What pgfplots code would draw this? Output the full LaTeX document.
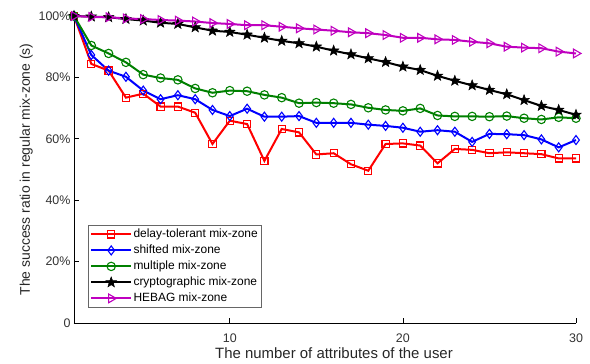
\documentclass[border=0pt]{standalone}
\usepackage{pgfplots}
\pgfplotsset{compat=1.18}
\usepackage{fontspec}
\setmainfont{Liberation Sans}
\definecolor{mgreen}{rgb}{0,0.5,0}
\definecolor{mmag}{rgb}{0.75,0,0.75}
\pgfdeclareplotmark{fstar}{%
  \pgfpathmoveto{\pgfpointpolar{90}{\pgfplotmarksize}}%
  \pgfpathlineto{\pgfpointpolar{126}{0.42\pgfplotmarksize}}%
  \pgfpathlineto{\pgfpointpolar{162}{\pgfplotmarksize}}%
  \pgfpathlineto{\pgfpointpolar{198}{0.42\pgfplotmarksize}}%
  \pgfpathlineto{\pgfpointpolar{234}{\pgfplotmarksize}}%
  \pgfpathlineto{\pgfpointpolar{270}{0.42\pgfplotmarksize}}%
  \pgfpathlineto{\pgfpointpolar{306}{\pgfplotmarksize}}%
  \pgfpathlineto{\pgfpointpolar{342}{0.42\pgfplotmarksize}}%
  \pgfpathlineto{\pgfpointpolar{18}{\pgfplotmarksize}}%
  \pgfpathlineto{\pgfpointpolar{54}{0.42\pgfplotmarksize}}%
  \pgfpathclose
  \pgfusepathqfillstroke}
\begin{document}
\begin{tikzpicture}
\useasboundingbox (-74bp,-41bp) rectangle (516bp,323bp);
\begin{axis}[
  at={(0,0)}, anchor=south west,
  scale only axis,
  width=502bp, height=307bp,
  xmin=1, xmax=30, ymin=0, ymax=100,
  axis x line*=bottom, axis y line*=left,
  axis line style={-, line width=0.6bp},
  xtick={10,20,30},
  ytick={0,20,40,60,80,100},
  yticklabels={0,20\%,40\%,60\%,80\%,100\%},
  tick align=inside,
  major tick length=5bp,
  tick style={black, line width=0.6bp},
  /pgf/number format/assume math mode=true,
  ticklabel style={font=\fontsize{12.5}{14}\selectfont, text=black!80},
  xticklabel style={yshift=-7bp},
  xlabel={The number of attributes of the user},
  ylabel={The success ratio in regular mix-zone (s)},
  xlabel style={font=\fontsize{15}{17}\selectfont, text=black!85, yshift=1.5bp, xshift=9bp},
  ylabel style={font=\fontsize{14}{16}\selectfont, text=black!85, yshift=-1bp},
  clip=false,
  legend cell align=left,
  legend style={at={(0.028,0.049)}, anchor=south west, font=\fontsize{12}{14}\selectfont,
    draw=black!60, fill=white, row sep=1.5bp, inner sep=2bp, line width=0.6bp,
    nodes={inner sep=1.5bp, text height=9bp, text depth=2.5bp}},
  legend image code/.code={%
    \draw[mark=none, line width=2bp] (0cm,0cm) -- (1.4cm,0cm);
    \draw plot coordinates {(0.7cm,0cm)};},
]
\addplot[red, line width=2bp, mark=square, mark size=3.6bp, mark options={solid, line width=1.1bp}] coordinates {
(1,100)(2,84.4)(3,82.2)(4,73.4)(5,74.7)(6,70.5)(7,70.5)(8,68.5)(9,58.3)(10,65.9)
(11,64.8)(12,52.8)(13,63.2)(14,62.1)(15,54.9)(16,55.3)(17,51.7)(18,49.6)(19,58.3)(20,58.5)
(21,57.8)(22,52.0)(23,56.7)(24,56.4)(25,55.3)(26,55.6)(27,55.3)(28,55.0)(29,53.6)(30,53.6)};
\addlegendentry{delay-tolerant mix-zone}
\addplot[blue, line width=2bp, mark=diamond, mark size=4.5bp, mark options={solid, line width=1.1bp}] coordinates {
(1,100)(2,87.3)(3,82.2)(4,80.2)(5,75.7)(6,72.9)(7,74.2)(8,72.9)(9,69.4)(10,67.4)
(11,69.8)(12,67.2)(13,67.2)(14,67.4)(15,65.2)(16,65.2)(17,65.2)(18,64.6)(19,64.2)(20,63.6)
(21,62.3)(22,62.8)(23,62.3)(24,59.0)(25,61.6)(26,61.5)(27,61.2)(28,59.8)(29,57.2)(30,59.6)};
\addlegendentry{shifted mix-zone}
\addplot[mgreen, line width=2bp, mark=o, mark size=4.2bp, mark options={solid, line width=1.1bp}] coordinates {
(1,100)(2,90.4)(3,87.8)(4,84.9)(5,80.9)(6,79.8)(7,79.2)(8,76.4)(9,75.0)(10,75.7)
(11,75.5)(12,74.3)(13,73.4)(14,71.6)(15,71.8)(16,71.6)(17,71.2)(18,70.1)(19,69.4)(20,69.1)
(21,69.9)(22,67.6)(23,67.3)(24,67.3)(25,67.2)(26,67.4)(27,66.7)(28,66.3)(29,67.0)(30,66.7)};
\addlegendentry{multiple mix-zone}
\addplot[black, line width=2bp, mark=fstar, mark size=5.5bp, mark options={solid, fill=black, line width=0.5bp}] coordinates {
(1,100)(2,99.8)(3,99.6)(4,99.0)(5,98.5)(6,97.8)(7,97.4)(8,96.3)(9,95.2)(10,94.8)
(11,93.9)(12,92.9)(13,91.9)(14,91.1)(15,90.0)(16,88.7)(17,87.5)(18,86.2)(19,85.0)(20,83.5)
(21,82.4)(22,80.5)(23,78.9)(24,77.4)(25,75.9)(26,74.5)(27,72.6)(28,70.7)(29,69.4)(30,67.8)};
\addlegendentry{cryptographic mix-zone}
\addplot[mmag, line width=2bp, mark=triangle, mark size=5bp, mark options={solid, rotate=-90, line width=1.1bp}] coordinates {
(1,100)(2,99.7)(3,99.6)(4,99.2)(5,99.0)(6,98.7)(7,98.5)(8,98.2)(9,97.7)(10,97.4)
(11,97.0)(12,97.0)(13,96.5)(14,96.0)(15,95.6)(16,95.2)(17,94.7)(18,94.4)(19,93.8)(20,92.9)
(21,92.9)(22,92.4)(23,92.2)(24,91.6)(25,91.1)(26,90.0)(27,89.7)(28,89.5)(29,88.4)(30,87.8)};
\addlegendentry{HEBAG mix-zone}
\end{axis}
\end{tikzpicture}
\end{document}
